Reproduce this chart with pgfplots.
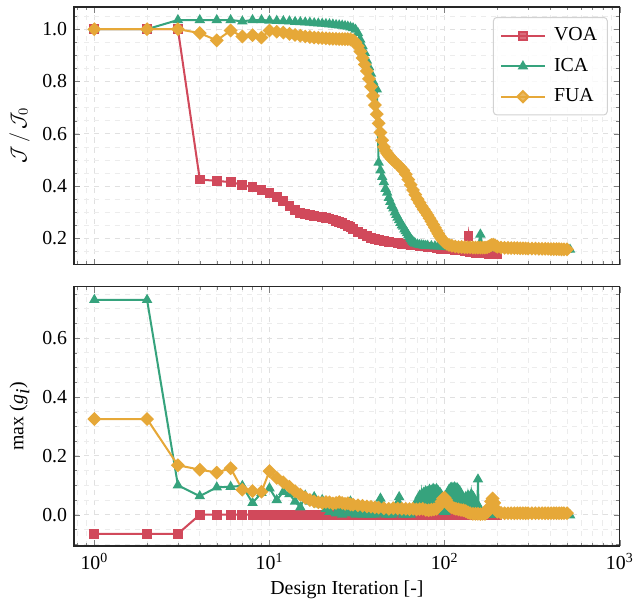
\documentclass[border=0pt]{standalone}
\usepackage{fontspec}
\setmainfont{Liberation Serif}
\usepackage{pgfplots}
\pgfplotsset{compat=1.18}

\definecolor{cvoa}{RGB}{209,73,91}
\definecolor{cica}{RGB}{54,163,125}
\definecolor{cfua}{RGB}{230,168,56}

\tikzset{
  sVOA/.style={cvoa, line width=1.2pt, mark=square*, mark size=2.3pt, mark options={solid, fill=cvoa}},
  sICA/.style={cica, line width=1.2pt, mark=triangle*, mark size=2.4pt, mark options={solid, fill=cica}},
  sFUA/.style={cfua, line width=1.2pt, mark=square*, mark size=2.3pt, mark options={solid, fill=cfua, rotate=45}},
}

\begin{document}
\fontsize{11.7}{14}\selectfont
\begin{tikzpicture}
% top: normalised objective
\begin{axis}[
  name=top, at={(0,166pt)}, anchor=south west,
  width=322pt, height=152pt, scale only axis,
  xmode=log, xmin=0.766, xmax=1000,
  xtick={1,10,100,1000}, xticklabels={},
  minor xtick={0.8,0.9,2,3,4,5,6,7,8,9,20,30,40,50,60,70,80,90,200,300,400,500,600,700,800,900},
  ymin=0.1, ymax=1.085,
  ytick={0.2,0.4,0.6,0.8,1.0},
  minor ytick={0.15,0.25,0.3,0.35,0.45,0.5,0.55,0.65,0.7,0.75,0.85,0.9,0.95,1.05},
  grid=both,
  major grid style={dashed, gray!24},
  minor grid style={dashed, gray!15},
  tick align=inside,
  major tick length=3.5pt, minor tick length=2pt,
  axis line style={black!85, line width=0.8pt},
  yticklabel style={/pgf/number format/fixed, /pgf/number format/fixed zerofill, /pgf/number format/precision=1, /pgf/number format/assume math mode=true},
  ylabel style={at={(axis description cs:-0.1,0.5)}, anchor=center},
  ylabel={$\mathcal{J}\,/\,\mathcal{J}_0$},
  legend style={at={(0.978,0.961)}, anchor=north east, draw=gray!35, line width=0.6pt,
    rounded corners=2pt, fill=white, fill opacity=0.8, text opacity=1,
    inner xsep=4pt, inner ysep=4pt, row sep=4.5pt,
    /tikz/every odd column/.append style={column sep=3pt}},
  legend cell align=left,
  legend image code/.code={\draw[mark repeat=2, mark phase=2] plot coordinates {(0cm,0cm) (0.45cm,0cm) (0.9cm,0cm)};},
]
\addplot[sVOA] coordinates {
(1,1.0)(2,1.0)(3,1.0)(4,0.425)(5,0.42)(6,0.415)(7,0.405)(8,0.395)(9,0.385)(10,0.372)
(11,0.358)(12,0.342)(13,0.325)(14,0.31)(15,0.298)(16,0.292)(17,0.289)(18,0.286)(19,0.284)(20,0.282)
(21,0.279)(22,0.276)(23,0.272)(24,0.268)(25,0.263)(26,0.258)(27,0.253)(28,0.248)(29,0.242)(30,0.236)
(32,0.226)(34,0.218)(36,0.21)(38,0.203)(40,0.197)(42,0.193)(45,0.19)(48,0.187)(51,0.184)(54,0.182)
(57,0.18)(60,0.178)(64,0.175)(68,0.173)(72,0.171)(76,0.169)(80,0.167)(85,0.165)(90,0.163)(95,0.161)
(100,0.16)(105,0.159)(110,0.158)(115,0.156)(120,0.155)(125,0.154)(130,0.152)(134,0.151)(137,0.21)(140,0.148)
(145,0.147)(150,0.145)(155,0.144)(160,0.143)(165,0.143)(170,0.142)(175,0.142)(180,0.141)(185,0.141)(190,0.14)
(195,0.14)(200,0.14)
};
\addlegendentry{VOA}
\addplot[sICA] coordinates {
(1,1.0)(2,1.0)(3,1.035)(4,1.035)(5,1.035)(6,1.035)(7,1.03)(8,1.035)(9,1.035)(10,1.033)
(11,1.032)(12,1.031)(13,1.03)(14,1.028)(15,1.027)(16,1.026)(17,1.025)(18,1.023)(19,1.022)(20,1.021)
(21,1.02)(22,1.019)(23,1.018)(24,1.016)(25,1.015)(26,1.014)(27,1.012)(28,1.01)(29,1.007)(30,1.004)
(31,0.998)(32,0.985)(33,0.96)(34,0.935)(35,0.91)(36,0.88)(37,0.855)(38,0.83)(39,0.8)(40,0.78)
(41,0.77)(42,0.49)(43,0.46)(44,0.435)(45,0.415)(46,0.39)(47,0.375)(48,0.355)(49,0.34)(50,0.325)
(51,0.315)(52,0.3)(53,0.29)(54,0.28)(55,0.27)(56,0.26)(57,0.25)(58,0.245)(59,0.235)(60,0.228)
(61,0.22)(62,0.212)(63,0.205)(64,0.198)(65,0.192)(66,0.187)(67,0.183)(68,0.18)(70,0.177)(72,0.175)
(74,0.174)(76,0.173)(78,0.172)(80,0.172)(84,0.171)(88,0.17)(92,0.17)(96,0.169)(100,0.168)(105,0.167)
(110,0.166)(115,0.166)(120,0.165)(125,0.165)(130,0.165)(135,0.165)(140,0.165)(145,0.165)(150,0.165)(155,0.166)
(160,0.215)(165,0.166)(170,0.165)(175,0.164)(180,0.164)(190,0.163)(200,0.163)(210,0.162)(220,0.162)(230,0.162)
(240,0.161)(250,0.161)(260,0.161)(270,0.16)(280,0.16)(290,0.16)(300,0.16)(315,0.159)(330,0.159)(345,0.159)
(360,0.159)(375,0.158)(390,0.158)(405,0.158)(420,0.158)(435,0.158)(450,0.157)(465,0.157)(480,0.157)(500,0.157)
(520,0.157)
};
\addlegendentry{ICA}
\addplot[sFUA] coordinates {
(1,1.0)(2,1.0)(3,1.0)(4,0.985)(5,0.957)(6,0.995)(7,0.972)(8,0.977)(9,0.968)(10,0.995)
(11,0.99)(12,0.987)(13,0.982)(14,0.978)(15,0.975)(16,0.972)(17,0.97)(18,0.968)(19,0.967)(20,0.966)
(21,0.965)(22,0.964)(23,0.963)(24,0.963)(25,0.962)(26,0.962)(27,0.962)(28,0.962)(29,0.961)(30,0.958)
(31,0.95)(32,0.935)(33,0.915)(34,0.89)(35,0.865)(36,0.84)(37,0.81)(38,0.78)(39,0.745)(40,0.71)
(41,0.675)(42,0.64)(43,0.605)(44,0.575)(45,0.55)(46,0.535)(47,0.525)(48,0.517)(49,0.51)(50,0.503)
(52,0.492)(54,0.482)(56,0.472)(58,0.46)(60,0.445)(62,0.425)(64,0.405)(66,0.385)(68,0.367)(70,0.35)
(72,0.336)(74,0.323)(76,0.311)(78,0.3)(80,0.289)(82,0.277)(84,0.265)(86,0.253)(88,0.241)(90,0.229)
(92,0.218)(94,0.208)(96,0.199)(98,0.191)(100,0.185)(103,0.179)(106,0.175)(110,0.172)(115,0.169)(120,0.167)
(125,0.167)(130,0.166)(135,0.166)(140,0.166)(145,0.165)(150,0.165)(155,0.165)(160,0.165)(165,0.165)(170,0.165)
(175,0.166)(180,0.17)(185,0.175)(190,0.176)(195,0.172)(200,0.168)(210,0.165)(220,0.164)(230,0.164)(240,0.163)
(250,0.163)(260,0.163)(270,0.162)(280,0.162)(290,0.162)(300,0.161)(315,0.161)(330,0.161)(345,0.16)(360,0.16)
(375,0.16)(390,0.16)(405,0.159)(420,0.159)(435,0.159)(450,0.159)(465,0.158)(480,0.158)(500,0.158)
};
\addlegendentry{FUA}
\end{axis}

% bottom: maximum constraint value
\begin{axis}[
  name=bot, at={(0,0)}, anchor=south west,
  width=322pt, height=153pt, scale only axis,
  xmode=log, xmin=0.766, xmax=1000,
  xtick={1,10,100,1000},
  xticklabels={10\textsuperscript{0},10\textsuperscript{1},10\textsuperscript{2},10\textsuperscript{3}},
  minor xtick={0.8,0.9,2,3,4,5,6,7,8,9,20,30,40,50,60,70,80,90,200,300,400,500,600,700,800,900},
  ymin=-0.106, ymax=0.775,
  ytick={0,0.2,0.4,0.6},
  minor ytick={-0.1,-0.05,0.05,0.1,0.15,0.25,0.3,0.35,0.45,0.5,0.55,0.65,0.7,0.75},
  grid=both,
  major grid style={dashed, gray!24},
  minor grid style={dashed, gray!15},
  tick align=inside,
  major tick length=3.5pt, minor tick length=2pt,
  axis line style={black!85, line width=0.8pt},
  yticklabel style={/pgf/number format/fixed, /pgf/number format/fixed zerofill, /pgf/number format/precision=1, /pgf/number format/assume math mode=true},
  ylabel style={at={(axis description cs:-0.1,0.5)}, anchor=center},
  ylabel={max (\textit{g}$_{\textit{i}}$)},
  xlabel={Design Iteration [-]},
  xlabel style={at={(axis description cs:0.5,-0.17)}, anchor=center},
]
\addplot[sVOA] coordinates {
(1,-0.065)(2,-0.065)(3,-0.065)(4,0)(5,0)(6,0)(7,0)(8,0)(9,0)(10,0)
(11,0)(12,0)(13,0)(14,0)(15,0)(16,0)(17,0)(18,0)(19,0)(20,0)
(21,0)(22,0)(23,0)(24,0)(25,0)(26,0)(27,0)(28,0)(29,0)(30,0)
(32,0)(34,0)(36,0)(38,0)(40,0)(42,0)(44,0)(46,0)(48,0)(50,0)
(52,0)(54,0)(56,0)(58,0)(60,0)(63,0)(66,0)(69,0)(72,0)(75,0)
(78,0)(81,0)(84,0)(87,0)(90,0)(93,0)(96,0)(100,0)(105,0)(110,0)
(115,0)(120,0)(125,0)(130,0)(135,0)(140,0)(145,0)(150,0)(155,0)(160,0)
(165,0)(170,0)(175,0)(180,0)(185,0)(190,0)(195,0)(200,0)
};
\addplot[sICA] coordinates {
(1,0.73)(2,0.73)(3,0.1)(4,0.063)(5,0.093)(6,0.095)(7,0.098)(8,0.04)(9,0.074)(10,0.09)
(11,0.05)(12,0.078)(13,0.07)(14,0.045)(15,0.025)(16,0.065)(17,0.045)(18,0.06)(19,0.035)(20,0.05)
(21,0.02)(22,0.01)(23,0.03)(24,0.005)(25,0.015)(26,0.0)(27,0.02)(28,0.005)(29,0.045)(30,0.01)
(31,0.0)(32,0.005)(33,0.02)(34,0.0)(35,0.01)(36,0.0)(37,0.005)(38,0.0)(39,0.01)(40,0.0)
(41,0.005)(42,0.02)(43,0.055)(44,0.03)(45,0.01)(46,0.0)(47,0.005)(48,0.0)(49,0.01)(50,0.0)
(51,0.005)(52,0.01)(53,0.02)(54,0.04)(55,0.06)(56,0.03)(57,0.01)(58,0.0)(59,0.005)(60,0.0)
(62,0.01)(64,0.0)(66,0.02)(68,0.03)(70,0.05)(71,0.02)(72,0.065)(73,0.03)(74,0.07)(75,0.04)
(76,0.075)(77,0.03)(78,0.08)(79,0.04)(80,0.078)(81,0.035)(82,0.085)(83,0.04)(84,0.082)(85,0.03)
(86,0.088)(87,0.04)(88,0.085)(89,0.035)(90,0.087)(91,0.03)(92,0.08)(93,0.04)(94,0.075)(95,0.03)
(96,0.065)(97,0.02)(98,0.05)(99,0.01)(100,0.04)(101,0.01)(102,0.05)(103,0.02)(104,0.07)(105,0.03)
(106,0.085)(107,0.04)(108,0.09)(109,0.04)(110,0.092)(111,0.04)(112,0.09)(113,0.035)(114,0.093)(115,0.04)
(116,0.09)(117,0.035)(118,0.09)(119,0.04)(120,0.085)(121,0.03)(122,0.08)(123,0.03)(124,0.07)(125,0.02)
(126,0.06)(128,0.05)(130,0.04)(132,0.06)(134,0.03)(136,0.065)(138,0.04)(140,0.035)(142,0.07)(144,0.04)
(146,0.06)(148,0.04)(150,0.03)(152,0.04)(154,0.03)(155,0.12)(156,0.03)(158,0.02)(160,0.01)(165,0.005)
(170,0.0)(175,0.0)(180,0.0)(190,0.0)(200,0.0)(210,0.0)(220,0.0)(230,0.0)(240,0.0)(250,0.0)
(260,0.0)(270,0.0)(280,0.0)(290,0.0)(300,0.0)(315,0.0)(330,0.0)(345,0.0)(360,0.0)(375,0.0)
(390,0.0)(405,0.0)(420,0.0)(435,0.0)(450,0.0)(465,0.0)(480,0.0)(500,0.0)(520,-0.002)
};
\addplot[sFUA] coordinates {
(1,0.325)(2,0.325)(3,0.168)(4,0.153)(5,0.143)(6,0.158)(7,0.085)(8,0.08)(9,0.078)(10,0.148)
(11,0.125)(12,0.11)(13,0.095)(14,0.08)(15,0.068)(16,0.058)(17,0.05)(18,0.045)(19,0.042)(20,0.04)
(21,0.043)(22,0.042)(23,0.038)(24,0.04)(25,0.043)(26,0.04)(27,0.037)(28,0.039)(29,0.035)(30,0.034)
(32,0.032)(34,0.03)(36,0.028)(38,0.027)(40,0.025)(42,0.024)(45,0.022)(48,0.02)(51,0.022)(54,0.021)
(57,0.02)(60,0.02)(63,0.019)(66,0.02)(69,0.018)(72,0.019)(75,0.02)(78,0.016)(81,0.015)(84,0.017)
(87,0.018)(90,0.02)(93,0.03)(96,0.045)(98,0.055)(100,0.058)(102,0.05)(104,0.04)(106,0.032)(108,0.028)
(110,0.025)(113,0.022)(116,0.02)(120,0.018)(124,0.016)(128,0.015)(132,0.012)(136,0.008)(140,0.005)(145,0.003)
(150,0.003)(155,0.003)(160,0.002)(165,0.003)(170,0.003)(175,0.008)(180,0.025)(184,0.045)(188,0.055)(192,0.04)
(196,0.02)(200,0.01)(210,0.006)(220,0.005)(230,0.005)(240,0.005)(250,0.005)(260,0.005)(270,0.005)(280,0.005)
(290,0.005)(300,0.005)(315,0.005)(330,0.005)(345,0.005)(360,0.005)(375,0.005)(390,0.005)(405,0.005)(420,0.005)
(435,0.005)(450,0.005)(465,0.005)(480,0.005)(500,0.005)
};
\end{axis}

\pgfresetboundingbox
\path[use as bounding box] (-43.7pt,-36pt) rectangle (329.8pt,322.1pt);
\end{tikzpicture}
\end{document}
